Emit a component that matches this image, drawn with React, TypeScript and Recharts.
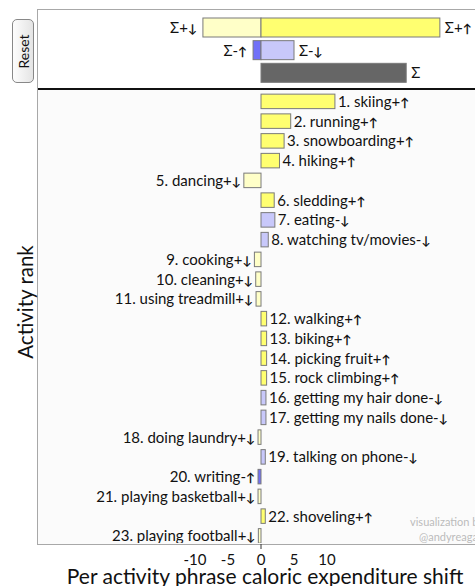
import React from "react";
import { BarChart, Bar, XAxis, YAxis } from "recharts";

// per-activity shifts, in rank order
const activities = [
  "skiing", "running", "snowboarding", "hiking", "dancing", "sledding", "eating",
  "watching tv/movies", "cooking", "cleaning", "using treadmill", "walking", "biking",
  "picking fruit", "rock climbing", "getting my hair done", "getting my nails done",
  "doing laundry", "talking on phone", "writing", "playing basketball", "shoveling",
  "playing football",
];
const shifts = [
  11.2, 4.5, 3.5, 2.8, -2.6, 2.0, 2.1, 1.1, -1.0, -0.8, -0.75, 0.85, 0.85, 0.85, 0.85,
  0.75, 0.75, -0.45, 0.65, -0.45, -0.45, 0.65, -0.4,
];
const kinds = [
  "+↑", "+↑", "+↑", "+↑", "+↓", "+↑", "-↓", "-↓", "+↓", "+↓", "+↓", "+↑", "+↑", "+↑",
  "+↑", "-↓", "-↓", "+↓", "-↓", "-↑", "+↓", "+↑", "+↓",
];

// summary rows at the top
const sumRows = ["plus", "minus", "total"];
const sumNeg = [-8.8, -1.2, 0];
const sumPos = [27.1, 5.0, 22.0];
const sumNegKinds = ["+↓", "-↑", ""];
const sumPosKinds = ["+↑", "-↓", ""];

const xTicks = [-10, -5, 0, 5, 10];

const kindColor: Record<string, string> = {
  "+↑": "#ffff70",
  "+↓": "#ffffc8",
  "-↓": "#c8c8fa",
  "-↑": "#7070f8",
  "": "#666666",
};

const FONT = "Lato, 'Open Sans', sans-serif";
const CHART_W = 520;
const PLOT_L = 38;
const ZERO_X = 261;
const PX_PER_UNIT = 6.6;
const xDomain = [(PLOT_L - ZERO_X) / PX_PER_UNIT, (CHART_W - ZERO_X) / PX_PER_UNIT];

const ROW0 = 101;
const ROW_H = 19.75;
const MAIN_TOP = 89;
const MAIN_BOTTOM = 543;
const yDomain = [1 - (ROW0 - MAIN_TOP) / ROW_H, 1 + (MAIN_BOTTOM - ROW0) / ROW_H];

const mainData = activities.map((name, i) => ({
  rank: i + 1,
  value: shifts[i],
  kind: kinds[i],
  label: `${i + 1}. ${name}`,
}));

const sumData = sumRows.map((row, i) => ({
  row,
  neg: sumNeg[i],
  pos: sumPos[i],
  negKind: sumNegKinds[i],
  posKind: sumPosKinds[i],
}));

// sign plus a smaller arrow, like the original
const KindText = ({ kind }: { kind: string }) => (
  <>
    <tspan>{kind.slice(0, 1)}</tspan>
    <tspan fontSize={12} fontWeight={700}>{kind.slice(1)}</tspan>
  </>
);

const MainBar = (props: any) => {
  const { x, y, width, height, payload } = props;
  const x0 = Math.min(x, x + width);
  const w = Math.abs(width);
  const neg = payload.value < 0;
  return (
    <g>
      <rect x={x0} y={y} width={w} height={height} fill={kindColor[payload.kind]} stroke="#7a7a7a" strokeWidth={1} />
      <text
        x={neg ? x0 - 3 : x0 + w + 3}
        y={y + height / 2}
        dy="0.36em"
        textAnchor={neg ? "end" : "start"}
        fontSize={15}
        fontFamily={FONT}
        fill="#111"
      >
        {payload.label}
        <KindText kind={payload.kind} />
      </text>
    </g>
  );
};

const SumBar = (side: "neg" | "pos") => (props: any) => {
  const { x, y, width, height, payload } = props;
  const x0 = Math.min(x, x + width);
  const w = Math.abs(width);
  if (!w) return <g />;
  const kind = side === "neg" ? payload.negKind : payload.posKind;
  return (
    <g>
      <rect x={x0} y={y} width={w} height={height} fill={kindColor[kind]} stroke="#7a7a7a" strokeWidth={1} />
      <text
        x={side === "neg" ? x0 - 6 : x0 + w + 5}
        y={y + height / 2}
        dy="0.36em"
        textAnchor={side === "neg" ? "end" : "start"}
        fontSize={15}
        fontFamily={FONT}
        fill="#111"
      >
        Σ
        {kind && <KindText kind={kind} />}
      </text>
    </g>
  );
};

const Tick = (props: any) => {
  const { x, y, payload } = props;
  return (
    <g>
      {payload.value === 0 && <line x1={x} x2={x} y1={y - 10} y2={y - 5} stroke="#333" />}
      <text x={x} y={y} dy="0.71em" textAnchor="middle" fontSize={15} fontFamily={FONT} fill="#111">
        {payload.value}
      </text>
    </g>
  );
};

export default function App() {
  React.useLayoutEffect(() => {
    document.body.style.overflow = "hidden";
  }, []);
  return (
    <div
      style={{
        position: "absolute",
        left: 0,
        top: 0,
        width: 475,
        height: 586,
        overflow: "hidden",
        background: "#fff",
        fontFamily: FONT,
      }}
    >
      {/* frame */}
      <div
        style={{
          position: "absolute",
          left: 37,
          top: 9,
          width: 500,
          height: 534,
          border: "1px solid #a8a8a8",
          background: "#fbfbfb",
        }}
      />
      <div style={{ position: "absolute", left: 38, top: 10, width: 500, height: 78, background: "#fff" }} />
      <div style={{ position: "absolute", left: 38, top: 88, width: 500, height: 1.5, background: "#111" }} />

      <div style={{ position: "absolute", left: 0, top: 0 }}>
        <BarChart
          width={CHART_W}
          height={95}
          data={sumData}
          layout="vertical"
          stackOffset="sign"
          margin={{ top: 16, right: 0, bottom: 11, left: PLOT_L }}
        >
          <XAxis type="number" domain={xDomain} allowDataOverflow hide />
          <YAxis type="category" dataKey="row" hide />
          <Bar dataKey="neg" stackId="s" barSize={19} isAnimationActive={false} shape={SumBar("neg")} />
          <Bar dataKey="pos" stackId="s" barSize={19} isAnimationActive={false} shape={SumBar("pos")} />
        </BarChart>
      </div>

      <div style={{ position: "absolute", left: 0, top: 0 }}>
        <BarChart
          width={CHART_W}
          height={586}
          data={mainData}
          layout="vertical"
          margin={{ top: MAIN_TOP, right: 0, bottom: 586 - MAIN_BOTTOM - 20, left: PLOT_L }}
        >
          <XAxis
            type="number"
            dataKey="value"
            domain={xDomain}
            allowDataOverflow
            ticks={xTicks}
            height={20}
            axisLine={false}
            tickLine={false}
            tickSize={6}
            tickMargin={5}
            tick={<Tick />}
            interval={0}
          />
          <YAxis type="number" dataKey="rank" domain={yDomain} allowDataOverflow hide />
          <Bar dataKey="value" barSize={14.5} isAnimationActive={false} shape={(p: any) => <MainBar {...p} />} />
        </BarChart>
      </div>

      {/* reset button */}
      <div
        style={{
          position: "absolute",
          left: 12,
          top: 19,
          width: 22,
          height: 64,
          boxSizing: "border-box",
          border: "1px solid #888",
          borderRadius: 5,
          background: "linear-gradient(to right, #fdfdfd, #e4e4e4)",
          display: "flex",
          alignItems: "center",
          justifyContent: "center",
        }}
      >
        <span style={{ transform: "rotate(-90deg)", fontSize: 14, color: "#111", whiteSpace: "nowrap" }}>Reset</span>
      </div>

      {/* axis titles */}
      <div
        style={{
          position: "absolute",
          left: 25,
          top: 302,
          transform: "translate(-50%, -50%) rotate(-90deg)",
          fontSize: 20.5,
          whiteSpace: "nowrap",
          color: "#111",
        }}
      >
        Activity rank
      </div>
      <div
        style={{
          position: "absolute",
          left: 265,
          top: 576,
          transform: "translate(-50%, -50%)",
          fontSize: 21,
          lineHeight: "22px",
          whiteSpace: "nowrap",
          color: "#111",
        }}
      >
        Per activity phrase caloric expenditure shift
      </div>

      {/* credit */}
      <div
        style={{
          position: "absolute",
          left: 408,
          top: 514,
          fontSize: 11,
          lineHeight: "15px",
          color: "#bbb",
          whiteSpace: "nowrap",
          textAlign: "right",
          width: 76,
        }}
      >
        visualization by
        <br />
        @andyreagan
      </div>
    </div>
  );
}
